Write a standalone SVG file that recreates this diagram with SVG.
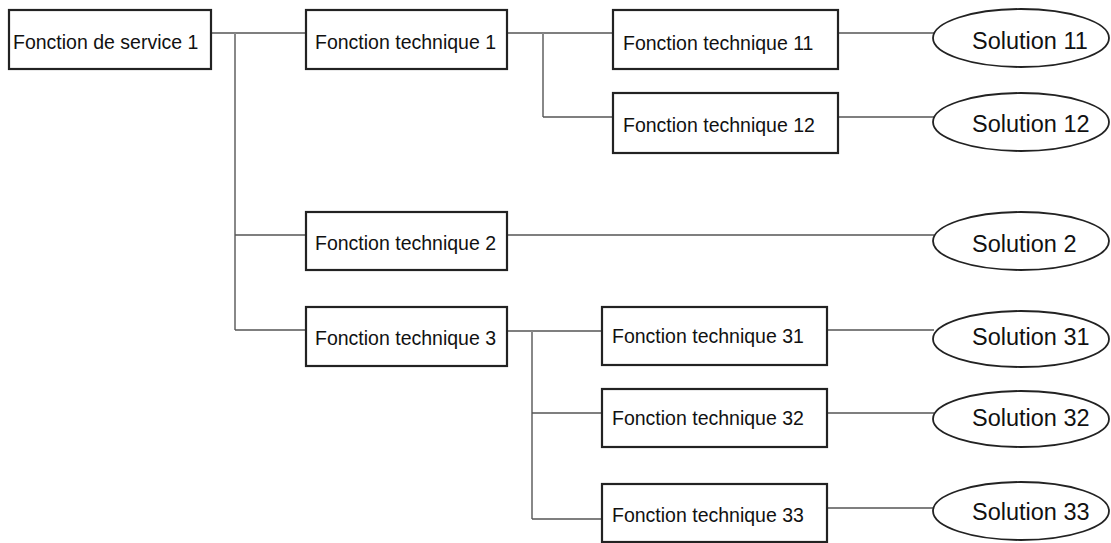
<svg xmlns="http://www.w3.org/2000/svg" width="1111" height="543" viewBox="0 0 1111 543">
<style>
.box{fill:#fff;stroke:#222;stroke-width:2.2}
.sol{fill:#fff;stroke:#222;stroke-width:1.8}
.lbl{font-family:"Liberation Sans",Arial,sans-serif;font-size:19.5px;fill:#111}
.slbl{font-family:"Liberation Sans",Arial,sans-serif;font-size:23.5px;fill:#111}
.conn{stroke:#555;stroke-width:1.6;fill:none}
.vconn{stroke:#888;stroke-width:2;fill:none}
</style>
<rect width="1111" height="543" fill="#fff"/>
<g id="connectors">
<line class="conn" x1="211" y1="33" x2="306" y2="33"/>
<line class="vconn" x1="235" y1="33" x2="235" y2="330"/>
<line class="conn" x1="235" y1="235" x2="306" y2="235"/>
<line class="conn" x1="235" y1="330" x2="306" y2="330"/>
<line class="conn" x1="507" y1="33" x2="613" y2="33"/>
<line class="vconn" x1="543" y1="33" x2="543" y2="117"/>
<line class="conn" x1="543" y1="117" x2="613" y2="117"/>
<line class="conn" x1="838" y1="33" x2="934" y2="33"/>
<line class="conn" x1="838" y1="117" x2="934" y2="117"/>
<line class="conn" x1="507" y1="235" x2="934" y2="235"/>
<line class="conn" x1="507" y1="331" x2="602" y2="331"/>
<line class="vconn" x1="532" y1="331" x2="532" y2="519"/>
<line class="conn" x1="532" y1="413" x2="602" y2="413"/>
<line class="conn" x1="532" y1="519" x2="602" y2="519"/>
<line class="conn" x1="827" y1="330" x2="934" y2="330"/>
<line class="conn" x1="827" y1="413" x2="934" y2="413"/>
<line class="conn" x1="827" y1="508" x2="934" y2="508"/>
</g>
<g id="fs1"><rect class="box" x="9" y="10" width="202" height="59"/><text class="lbl" x="13" y="49">Fonction de service 1</text></g>
<g id="ft1"><rect class="box" x="306" y="10" width="201" height="59"/><text class="lbl" x="315" y="49">Fonction technique 1</text></g>
<g id="ft11"><rect class="box" x="613" y="10" width="225" height="59"/><text class="lbl" x="623" y="50">Fonction technique 11</text></g>
<g id="ft12"><rect class="box" x="613" y="93" width="225" height="60"/><text class="lbl" x="623" y="132">Fonction technique 12</text></g>
<g id="ft2"><rect class="box" x="306" y="212" width="201" height="58"/><text class="lbl" x="315" y="250">Fonction technique 2</text></g>
<g id="ft3"><rect class="box" x="306" y="307" width="201" height="59"/><text class="lbl" x="315" y="345">Fonction technique 3</text></g>
<g id="ft31"><rect class="box" x="602" y="307" width="225" height="58"/><text class="lbl" x="612" y="343">Fonction technique 31</text></g>
<g id="ft32"><rect class="box" x="602" y="389" width="225" height="58"/><text class="lbl" x="612" y="425">Fonction technique 32</text></g>
<g id="ft33"><rect class="box" x="602" y="484" width="225" height="58"/><text class="lbl" x="612" y="522">Fonction technique 33</text></g>
<g id="s11"><ellipse class="sol" cx="1021" cy="38" rx="88" ry="29"/><text class="slbl" x="972" y="49">Solution 11</text></g>
<g id="s12"><ellipse class="sol" cx="1021" cy="122" rx="88" ry="29"/><text class="slbl" x="972" y="132">Solution 12</text></g>
<g id="s2"><ellipse class="sol" cx="1021" cy="241" rx="88" ry="29"/><text class="slbl" x="972" y="252">Solution 2</text></g>
<g id="s31"><ellipse class="sol" cx="1021" cy="339" rx="88" ry="28"/><text class="slbl" x="972" y="345">Solution 31</text></g>
<g id="s32"><ellipse class="sol" cx="1021" cy="419" rx="88" ry="28"/><text class="slbl" x="972" y="426">Solution 32</text></g>
<g id="s33"><ellipse class="sol" cx="1021" cy="511" rx="88" ry="29"/><text class="slbl" x="972" y="520">Solution 33</text></g>
</svg>
